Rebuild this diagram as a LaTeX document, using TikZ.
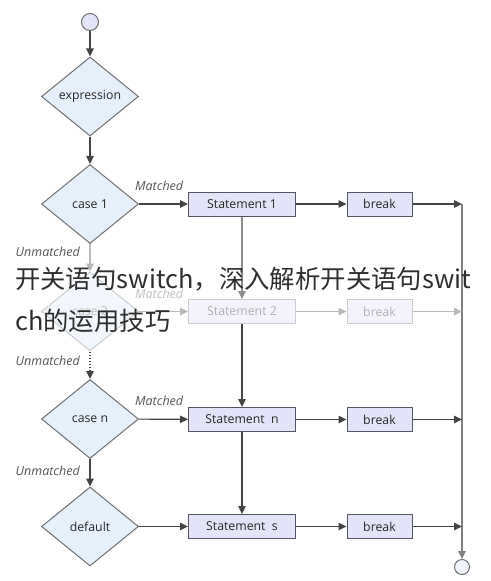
\documentclass[tikz,border=0pt]{standalone}
\usepackage{fontspec}
\setmainfont{Open Sans}
\newfontfamily\cjk{Noto Sans CJK SC}
\usetikzlibrary{shapes.geometric,arrows.meta}
\definecolor{dfill}{HTML}{E6F0FA}
\definecolor{ddraw}{HTML}{707070}
\definecolor{bfill}{HTML}{E4E4F8}
\definecolor{bdraw}{HTML}{555566}
\definecolor{ln}{HTML}{444444}
\definecolor{fadeln}{HTML}{B8B8B8}
\definecolor{lbl}{HTML}{555555}
\tikzset{
  dec/.style={diamond,draw=ddraw,fill=dfill,line width=1pt,minimum width=97pt,minimum height=79pt,inner sep=0pt,font=\fontsize{12.3}{14}\selectfont,text=black!85},
  stmt/.style={rectangle,draw=bdraw,fill=bfill,line width=1pt,minimum width=107pt,minimum height=24pt,inner sep=0pt,font=\fontsize{12.3}{14}\selectfont,text=black!85},
  brk/.style={stmt,minimum width=65pt},
  fdec/.style={dec,draw=black!20,fill=dfill!55,text=black!25},
  fstmt/.style={stmt,draw=black!20,fill=bfill!45,text=black!30},
  fbrk/.style={fstmt,minimum width=65pt},
  arr/.style={draw=ln,line width=1.1pt,-{Triangle[length=8pt,width=7.5pt]}},
  farr/.style={draw=fadeln,line width=1.1pt,-{Triangle[length=8pt,width=7.5pt]}},
  lab/.style={font=\fontsize{12.5}{14}\itshape,text=lbl,inner sep=0pt},
  flab/.style={lab,text=black!25},
  term/.style={circle,draw=ddraw,line width=1pt,inner sep=0pt},
  cjktext/.style={font=\cjk\fontsize{25.4}{30}\selectfont,text=black!82,inner sep=0pt,anchor=base west}
}
\begin{document}
\begin{tikzpicture}[x=1pt,y=-1pt]
\useasboundingbox[fill=white] (0,0) rectangle (490,581);
% terminals
\node[term,fill=bfill,minimum size=17pt] (start) at (90,22) {};
\node[term,fill=dfill!60,minimum size=15pt] (stop) at (462,567) {};
% decisions
\node[dec] (expr) at (90,96.5) {expression};
\node[dec] (c1) at (90,204) {case 1};
\node[fdec] (c2) at (90,311.5) {case 2};
\node[dec] (cn) at (90,419) {case n};
\node[dec] (def) at (90,526.5) {default};
% statements
\node[stmt] (s1) at (242,204) {Statement 1};
\node[fstmt] (s2) at (242,311.5) {Statement 2};
\node[stmt] (sn) at (242,419.5) {Statement\ \ n};
\node[stmt] (ss) at (242,526.5) {Statement\ \ s};
\node[brk] (b1) at (379.5,204) {break};
\node[fbrk] (b2) at (379.5,311.5) {break};
\node[brk] (bn) at (379.5,419.5) {break};
\node[brk] (bs) at (379.5,526.5) {break};
% right collector points
\coordinate (r1) at (462,204);
\coordinate (r2) at (462,311.5);
\coordinate (rn) at (462,419.5);
\coordinate (rs) at (462,526.5);
% right line
\draw[draw=black!50,line width=1.1pt] (r1) -- (rs);
\draw[arr,draw=black!50] (rs) -- (stop);
% main vertical chain
\draw[arr] (start) -- (expr);
\draw[arr] (expr) -- (c1);
\draw[farr] (c1) -- (c2);
\draw[draw=ln,line width=1.1pt,dotted,-{Triangle[length=8pt,width=7.5pt]}] (c2) -- (cn);
\draw[arr] (cn) -- (def);
% statements vertical
\draw[farr,draw=black!45] (s1) -- (s2);
\draw[arr] (s2) -- (sn);
\draw[arr] (sn) -- (ss);
% horizontal rows
\draw[arr] (c1) -- (s1);
\draw[arr] (s1) -- (b1);
\draw[arr] (b1) -- (r1);
\draw[farr] (c2) -- (s2);
\draw[farr] (s2) -- (b2);
\draw[farr] (b2) -- (r2);
\draw[arr] (cn) -- (sn);
\draw[arr] (sn) -- (bn);
\draw[arr] (bn) -- (rn);
\draw[arr] (def) -- (ss);
\draw[arr] (ss) -- (bs);
\draw[arr] (bs) -- (rs);
% labels
\node[lab,anchor=west] (m1) at (135,186) {Matched};
\node[flab,anchor=west] (m2) at (135,294) {Matched};
\node[lab,anchor=west] (mn) at (135,401) {Matched};
\node[lab,anchor=east] (u1) at (80,252) {Unmatched};
\node[lab,anchor=east] (u2) at (80,361) {Unmatched};
\node[lab,anchor=east] (un) at (80,471) {Unmatched};
% overlay title
\node[cjktext] (t1) at (15,288) {开关语句switch，深入解析开关语句swit};
\node[cjktext] (t2) at (15,330) {ch的运用技巧};
\end{tikzpicture}
\end{document}
